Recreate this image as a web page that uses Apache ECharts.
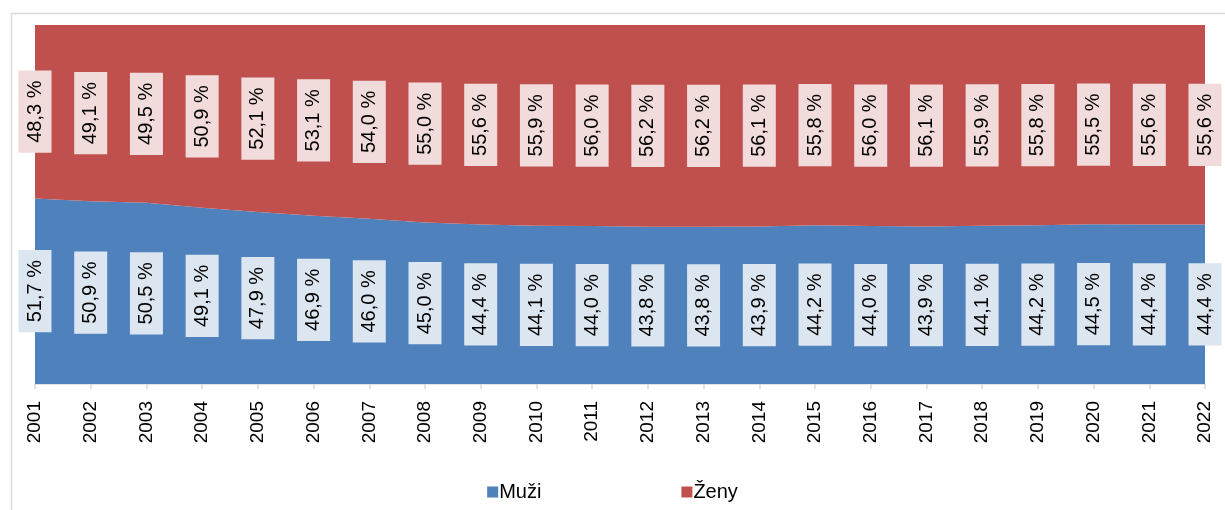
<!DOCTYPE html>
<html>
<head>
<meta charset="utf-8">
<script src="https://cdn.jsdelivr.net/npm/echarts@6/dist/echarts.min.js"></script>
<style>
  html, body { margin: 0; padding: 0; background: #ffffff; }
  #chart { width: 1225px; height: 510px; }
</style>
</head>
<body>
<div id="chart"></div>
<script>
const years = ['2001', '2002', '2003', '2004', '2005', '2006', '2007', '2008', '2009', '2010', '2011',
  '2012', '2013', '2014', '2015', '2016', '2017', '2018', '2019', '2020', '2021', '2022']
const muzi = [51.7, 50.9, 50.5, 49.1, 47.9, 46.9, 46.0, 45.0, 44.4, 44.1, 44.0,
  43.8, 43.8, 43.9, 44.2, 44.0, 43.9, 44.1, 44.2, 44.5, 44.4, 44.4]
const zeny = [48.3, 49.1, 49.5, 50.9, 52.1, 53.1, 54.0, 55.0, 55.6, 55.9, 56.0,
  56.2, 56.2, 56.1, 55.8, 56.0, 56.1, 55.9, 55.8, 55.5, 55.6, 55.6]

const fmt = v => v.toFixed(1).replace('.', ',') + ' %'

function labelSeries(name, data, bg) {
  // transparent stacked bars, only used to put the labels in the middle of each band
  return {
    name: name,
    type: 'bar',
    stack: 'labels',
    data: data,
    barWidth: 30,
    itemStyle: { color: 'rgba(0,0,0,0)' },
    silent: true,
    z: 5,
    label: {
      show: true,
      position: 'inside',
      rotate: 90,
      formatter: p => fmt(p.value),
      fontFamily: 'Liberation Sans, Arial',
      fontSize: 20,
      lineHeight: 20,
      color: '#000000',
      backgroundColor: bg,
      padding: [6, 10, 7, 10]
    }
  }
}

const chart = echarts.init(document.getElementById('chart'))
chart.setOption({
  backgroundColor: '#ffffff',
  animation: false,
  graphic: [{
    type: 'rect',
    left: 9,
    top: 11,
    shape: { width: 1240, height: 520 },
    style: { fill: 'none', stroke: '#d9d9d9', lineWidth: 1.5 },
    silent: true
  }],
  legend: {
    data: ['Muži', 'Ženy'],
    left: 'center',
    top: 477,
    icon: 'rect',
    itemWidth: 11,
    itemHeight: 11,
    itemGap: 140,
    itemStyle: { borderWidth: 0 },
    textStyle: {
      fontFamily: 'Liberation Sans, Arial',
      fontSize: 20,
      color: '#000000',
      padding: [0, 0, 0, -4]
    }
  },
  grid: {
    left: 35,
    right: 20,
    top: 25,
    bottom: 126
  },
  xAxis: {
    type: 'category',
    boundaryGap: false,
    data: years,
    axisLine: { lineStyle: { color: '#d9d9d9', width: 1.5 } },
    axisTick: { show: true, length: 5, lineStyle: { color: '#d9d9d9', width: 1.5 } },
    axisLabel: {
      rotate: 90,
      margin: 17,
      interval: 0,
      fontFamily: 'Liberation Sans, Arial',
      fontSize: 19,
      color: '#000000'
    }
  },
  yAxis: {
    type: 'value',
    min: 0,
    max: 100,
    show: false,
    splitLine: { show: false }
  },
  series: [
    {
      name: 'Muži',
      type: 'line',
      stack: 'total',
      data: muzi,
      symbol: 'none',
      lineStyle: { width: 0 },
      itemStyle: { color: '#4f81bd' },
      areaStyle: { color: '#4f81bd', opacity: 1 }
    },
    {
      name: 'Ženy',
      type: 'line',
      stack: 'total',
      data: zeny,
      symbol: 'none',
      lineStyle: { width: 0 },
      itemStyle: { color: '#c0504d' },
      areaStyle: { color: '#c0504d', opacity: 1 }
    },
    labelSeries('muzi_label', muzi, '#dce6f1'),
    labelSeries('zeny_label', zeny, '#f2dcdb')
  ]
})
</script>
</body>
</html>
